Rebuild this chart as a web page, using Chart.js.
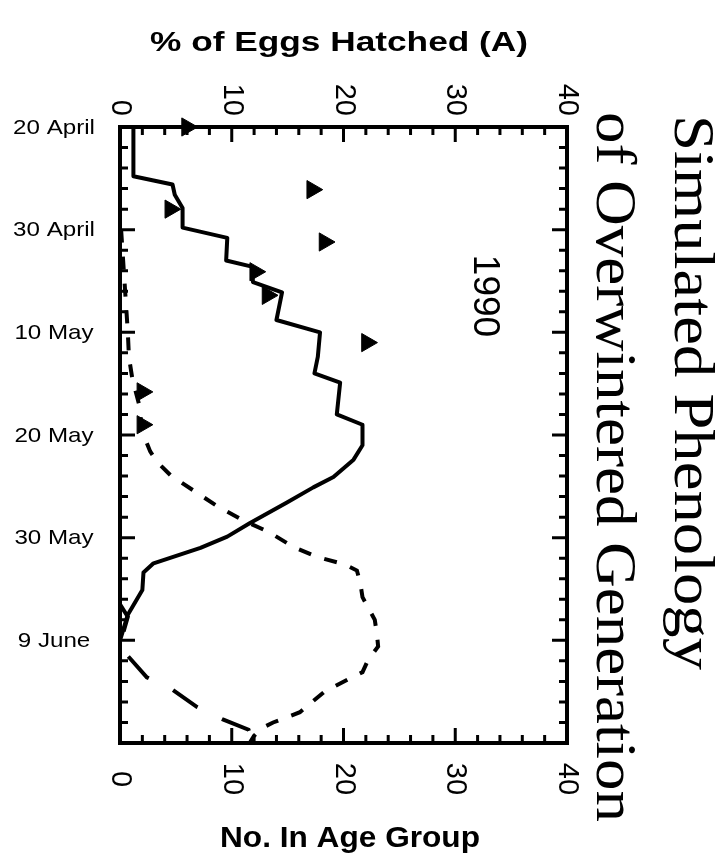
<!DOCTYPE html>
<html>
<head>
<meta charset="utf-8">
<title>Simulated Phenology of Overwintered Generation</title>
<script src="https://cdn.jsdelivr.net/npm/chart.js@4.4.1/dist/chart.umd.min.js"></script>
<style>
  html, body { margin: 0; padding: 0; background: #fff; }
  #wrap { width: 721px; height: 860px; position: relative; }
</style>
</head>
<body>
<div id="wrap"><canvas id="phenology"></canvas></div>
<script>
// date axis: days after 20 April (runs down the page)
const dateTickDays = [0, 10, 20, 30, 40, 50];
const dateTickLabels = ['20 April', '30 April', '10 May', '20 May', '30 May', '9 June'];
const valueTicks = [0, 10, 20, 30, 40];

// solid line - no. in age group
const solidDays = [0, 4.8, 5.6, 6.6, 7.9, 9.8, 10.8, 13.0, 13.6, 15.1, 16.1, 18.8, 20.0, 22.4, 24.0, 24.9,
  28.0, 29.0, 31.0, 32.4, 34.1, 35.1, 36.6, 38.6, 39.9, 41.0, 42.5, 43.4, 45.1, 47.5, 49.3, 50];
const solidCounts = [1.2, 1.2, 4.7, 4.9, 5.6, 5.6, 9.6, 9.5, 11.8, 11.9, 14.5, 14.0, 17.9, 17.7, 17.4, 19.7,
  19.4, 21.7, 21.7, 20.9, 19.1, 17.3, 14.9, 11.6, 9.6, 7.2, 3.0, 2.1, 2.0, 0.7, 0.2, 0];

// short dashes - next age group
const shortDashDays = [10, 15, 20, 22.4, 24.5, 27, 29.7, 31.6, 32.6, 33.9, 35.5, 37.0, 38.3, 39.5, 40.9, 41.9,
  42.6, 43.2, 44.4, 45.8, 48.0, 49.5, 50.6, 51.9, 53.1, 53.7, 55.0, 57.0, 58.0, 58.6, 59.3, 60];
const shortDashCounts = [0.1, 0.4, 0.7, 0.8, 1.1, 1.7, 2.0, 2.7, 3.3, 4.5, 6.7, 8.8, 11.0, 13.4, 15.5, 17.7,
  20.1, 21.2, 21.5, 21.7, 22.8, 23.0, 23.1, 22.2, 21.7, 20.6, 18.3, 16.1, 13.7, 12.6, 12.0, 11.6];

// long dashes - last age group
const longDashDays = [46.5, 47.7, 50, 51.4, 53.6, 54.8, 56.5, 57.7, 58.7, 59.7, 60];
const longDashCounts = [0, 0.7, 0.1, 0.6, 2.4, 4.7, 6.9, 9.2, 11.5, 11.8, 11.9];

// triangles - % of eggs hatched (A)
const eggDays = [0, 6.1, 8.0, 11.2, 14.1, 16.4, 21.0, 25.8, 29.0];
const eggPct = [6.0, 17.2, 4.5, 18.3, 12.1, 13.2, 22.1, 2.0, 2.0];

const SANS = '"Liberation Sans", Arial, Helvetica, sans-serif';
const SERIF = '"Liberation Serif", "Times New Roman", serif';

function toPoints(ys, xs) {
  return ys.map((d, i) => ({ x: xs[i], y: d }));
}

// text helper: optional rotation and stretch to a target width
function drawText(ctx, text, x, y, opt) {
  ctx.save();
  ctx.translate(x, y);
  if (opt.rot) ctx.rotate(opt.rot);
  ctx.font = opt.font;
  ctx.textAlign = opt.align || 'center';
  ctx.textBaseline = opt.baseline || 'middle';
  let sx = opt.sx || 1;
  if (opt.width) sx = opt.width / ctx.measureText(text).width;
  ctx.scale(sx, 1);
  ctx.fillStyle = '#000';
  ctx.fillText(text, 0, 0);
  ctx.restore();
}

const framePlugin = {
  id: 'frame',
  afterDatasetsDraw(chart) {
    const ctx = chart.ctx;
    const a = chart.chartArea;
    const xs = chart.scales.x;
    const ys = chart.scales.y;

    ctx.save();
    ctx.strokeStyle = '#000';
    ctx.lineWidth = 4;
    ctx.strokeRect(a.left, a.top, a.right - a.left, a.bottom - a.top);

    // inward ticks, every 2 units / 2 days, long ones every 10
    ctx.lineWidth = 3;
    ctx.beginPath();
    for (let v = 0; v <= 40; v += 2) {
      const px = xs.getPixelForValue(v);
      const len = v % 10 === 0 ? 15 : 8;
      ctx.moveTo(px, a.top); ctx.lineTo(px, a.top + len);
      ctx.moveTo(px, a.bottom); ctx.lineTo(px, a.bottom - len);
    }
    for (let d = 0; d <= 60; d += 2) {
      const py = ys.getPixelForValue(d);
      const len = d % 10 === 0 ? 15 : 8;
      ctx.moveTo(a.left, py); ctx.lineTo(a.left + len, py);
      ctx.moveTo(a.right, py); ctx.lineTo(a.right - len, py);
    }
    ctx.stroke();
    ctx.restore();

    // value tick labels, turned a quarter clockwise
    valueTicks.forEach(v => {
      const px = xs.getPixelForValue(v);
      drawText(ctx, String(v), px, 116, { font: '29px ' + SANS, rot: Math.PI / 2, align: 'right' });
      drawText(ctx, String(v), px, 779, { font: '29px ' + SANS, rot: Math.PI / 2, align: 'center' });
    });

    // date labels
    dateTickDays.forEach((d, i) => {
      drawText(ctx, dateTickLabels[i], 54, ys.getPixelForValue(d) + 1, { font: '21px ' + SANS, sx: 1.15 });
    });

    drawText(ctx, '% of Eggs Hatched (A)', 339, 51, { font: 'bold 27px ' + SANS, baseline: 'alphabetic', width: 378 });
    drawText(ctx, 'No. In Age Group', 350, 847, { font: 'bold 30px ' + SANS, baseline: 'alphabetic', width: 260 });
    drawText(ctx, '1990', 484, 296, { font: '37px ' + SANS, rot: Math.PI / 2 });

    drawText(ctx, 'Simulated Phenology', 675, 115, { font: '56px ' + SERIF, rot: Math.PI / 2, align: 'left', baseline: 'alphabetic', width: 555 });
    drawText(ctx, 'of Overwintered Generation', 597, 112, { font: '56px ' + SERIF, rot: Math.PI / 2, align: 'left', baseline: 'alphabetic', width: 710 });
  }
};

const lineBase = {
  showLine: true,
  borderColor: '#000',
  borderWidth: 4,
  pointRadius: 0,
  tension: 0,
  fill: false
};

new Chart(document.getElementById('phenology'), {
  type: 'scatter',
  data: {
    datasets: [
      Object.assign({}, lineBase, { label: 'solid', data: toPoints(solidDays, solidCounts), borderJoinStyle: 'round' }),
      Object.assign({}, lineBase, { label: 'short dash', data: toPoints(shortDashDays, shortDashCounts), borderDash: [13, 14] }),
      Object.assign({}, lineBase, { label: 'long dash', data: toPoints(longDashDays, longDashCounts), borderDash: [30, 27] }),
      {
        label: '% of Eggs Hatched (A)',
        data: toPoints(eggDays, eggPct),
        xAxisID: 'xTop',
        showLine: false,
        pointStyle: 'triangle',
        rotation: 90,
        pointRadius: 10.5,
        backgroundColor: '#000',
        borderColor: '#000',
        borderWidth: 1,
        clip: false
      }
    ]
  },
  options: {
    responsive: true,
    maintainAspectRatio: false,
    animation: false,
    devicePixelRatio: 1,
    events: [],
    layout: { padding: { left: 120, top: 127, right: 154, bottom: 117 } },
    plugins: { legend: { display: false }, tooltip: { enabled: false } },
    scales: {
      x: { type: 'linear', position: 'bottom', min: 0, max: 40, display: false },
      xTop: { type: 'linear', position: 'top', min: 0, max: 40, display: false },
      y: { type: 'linear', reverse: true, min: 0, max: 60, display: false }
    }
  },
  plugins: [framePlugin]
});
</script>
</body>
</html>
